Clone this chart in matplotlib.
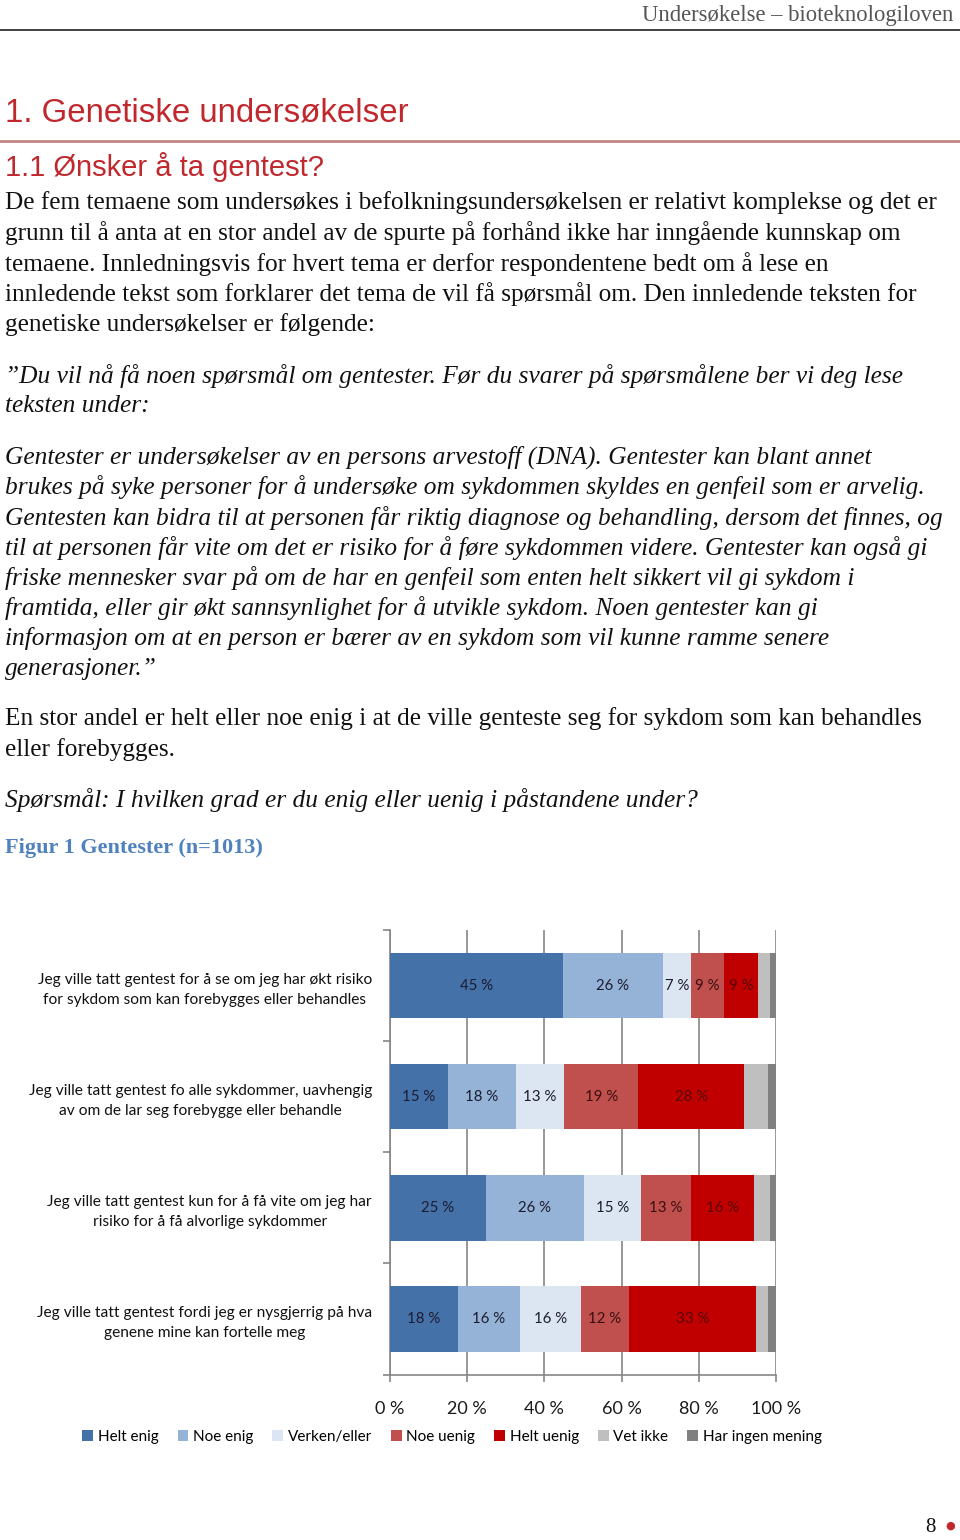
import matplotlib
matplotlib.use("Agg")
import matplotlib.pyplot as plt
from matplotlib.patches import Patch
import numpy as np

# --- data ---
statements = [
    "Jeg ville tatt gentest for å se om jeg har økt risiko\nfor sykdom som kan forebygges eller behandles",
    "Jeg ville tatt gentest fo alle sykdommer, uavhengig\nav om de lar seg forebygge eller behandle",
    "Jeg ville tatt gentest kun for å få vite om jeg har\nrisiko for å få alvorlige sykdommer",
    "Jeg ville tatt gentest fordi jeg er nysgjerrig på hva\ngenene mine kan fortelle meg",
]
answers = ["Helt enig", "Noe enig", "Verken/eller", "Noe uenig", "Helt uenig", "Vet ikke", "Har ingen mening"]
helt_enig = [44.8, 14.9, 24.8, 17.6]
noe_enig = [25.8, 17.7, 25.5, 16.1]
verken = [7.4, 12.6, 14.6, 15.8]
noe_uenig = [8.6, 19.0, 13.2, 12.4]
helt_uenig = [8.7, 27.6, 16.3, 33.0]
vet_ikke = [3.1, 6.2, 4.0, 2.9]
ingen_mening = [1.6, 2.0, 1.6, 2.2]
xticks = [0, 20, 40, 60, 80, 100]

colors = ["#4571A9", "#95B3D7", "#DCE6F2", "#C0504D", "#C00000", "#BFBFBF", "#808080"]
label_colors = ["#1c1c30", "#1c1c30", "#1c1c30", "#3a1010", "#5a0505"]

W, H = 960, 1540
fig = plt.figure(figsize=(W / 100, H / 100), dpi=100)


def fy(py):
    return 1 - py / H


def fx(px):
    return px / W


# --- page header ---
fig.text(fx(953), fy(15), "Undersøkelse – bioteknologiloven", ha="right", va="center",
         family="Liberation Serif", fontsize=16.3, color="#555555")
fig.add_artist(plt.Line2D([0, 1], [fy(30), fy(30)], color="#333333", lw=1.3))

red = "#C0282D"
fig.text(fx(5), fy(113), "1. Genetiske undersøkelser", ha="left", va="center",
         family="Liberation Sans", fontsize=23.8, color=red)
fig.add_artist(plt.Line2D([0, 1], [fy(141), fy(141)], color="#C08585", lw=2))
fig.text(fx(5), fy(167), "1.1 Ønsker å ta gentest?", ha="left", va="center",
         family="Liberation Sans", fontsize=21, color=red)

# --- body text ---
para1 = [
    "De fem temaene som undersøkes i befolkningsundersøkelsen er relativt komplekse og det er",
    "grunn til å anta at en stor andel av de spurte på forhånd ikke har inngående kunnskap om",
    "temaene. Innledningsvis for hvert tema er derfor respondentene bedt om å lese en",
    "innledende tekst som forklarer det tema de vil få spørsmål om. Den innledende teksten for",
    "genetiske undersøkelser er følgende:",
]
quote1 = [
    "”Du vil nå få noen spørsmål om gentester. Før du svarer på spørsmålene ber vi deg lese",
    "teksten under:",
]
quote2 = [
    "Gentester er undersøkelser av en persons arvestoff (DNA). Gentester kan blant annet",
    "brukes på syke personer for å undersøke om sykdommen skyldes en genfeil som er arvelig.",
    "Gentesten kan bidra til at personen får riktig diagnose og behandling, dersom det finnes, og",
    "til at personen får vite om det er risiko for å føre sykdommen videre. Gentester kan også gi",
    "friske mennesker svar på om de har en genfeil som enten helt sikkert vil gi sykdom i",
    "framtida, eller gir økt sannsynlighet for å utvikle sykdom. Noen gentester kan gi",
    "informasjon om at en person er bærer av en sykdom som vil kunne ramme senere",
    "generasjoner.”",
]
para2 = [
    "En stor andel er helt eller noe enig i at de ville genteste seg for sykdom som kan behandles",
    "eller forebygges.",
]
question = ["Spørsmål: I hvilken grad er du enig eller uenig i påstandene under?"]

blocks = [(para1, 203, "normal", 18.2), (quote1, 376, "italic", 18.3), (quote2, 457, "italic", 18.3),
          (para2, 719, "normal", 18.2), (question, 800, "italic", 18.3)]
for lines, y0, style, size in blocks:
    for i, line in enumerate(lines):
        fig.text(fx(5), fy(y0 + i * 30.3), line, ha="left", va="center",
                 family="Liberation Serif", style=style, fontsize=size, color="#111111")

fig.text(fx(5), fy(848), "Figur 1 Gentester (n=1013)", ha="left", va="center",
         family="Liberation Serif", weight="bold", fontsize=16, color="#4F81BD")

# --- chart ---
ax = fig.add_axes([fx(390), fy(1374.5), fx(776) - fx(390), fy(930) - fy(1374.5)])
series = [helt_enig, noe_enig, verken, noe_uenig, helt_uenig, vet_ikke, ingen_mening]
ypos = np.arange(len(statements))
left = np.zeros(len(statements))
for k, vals in enumerate(series):
    vals = np.array(vals)
    ax.barh(ypos, vals, left=left, height=0.59, color=colors[k], zorder=3)
    if k < 5:
        for y, l, v in zip(ypos, left, vals):
            ax.text(l + v / 2, y, f"{round(v)} %", ha="center", va="center",
                    family="Lato", fontsize=10.8, color=label_colors[k], zorder=4)
    left += vals

ax.set_xlim(0, 100)
ax.set_ylim(3.5, -0.5)
ax.set_xticks(xticks)
ax.set_xticklabels([f"{t} %" for t in xticks], family="Lato", fontsize=13, color="#1a1a1a")
ax.set_yticks(ypos)
ax.set_yticklabels(statements, family="Lato", fontsize=11.2, color="#111111")
for t in ax.get_yticklabels():
    t.set_multialignment("center")
    t.set_linespacing(1.5)
ax.set_yticks(np.arange(-0.5, 4, 1), minor=True)
ax.tick_params(axis="y", which="major", length=0, pad=13)
ax.tick_params(axis="y", which="minor", length=5, color="#868686", width=1.2)
ax.tick_params(axis="x", length=5, color="#868686", width=1.2, pad=14)
ax.grid(axis="x", color="#868686", lw=1.2, zorder=0)
for s in ["top", "right"]:
    ax.spines[s].set_visible(False)
for s in ["left", "bottom"]:
    ax.spines[s].set_color("#868686")
    ax.spines[s].set_linewidth(1.2)

handles = [Patch(facecolor=c, edgecolor="none") for c in colors]
fig.legend(handles, answers, loc="center", bbox_to_anchor=(fx(452), fy(1437)), ncol=7,
           frameon=False, prop={"family": "Lato", "size": 11}, handlelength=0.7,
           handleheight=0.7, handletextpad=0.3, columnspacing=1.25)

# --- page number ---
fig.text(fx(936), fy(1528), "8", ha="right", va="center", family="Liberation Serif",
         fontsize=15, color="#111111")
fig.text(fx(950), fy(1526), "●", ha="center", va="center", fontsize=8, color="#C0282D")

fig.savefig("out.png", dpi=100)
